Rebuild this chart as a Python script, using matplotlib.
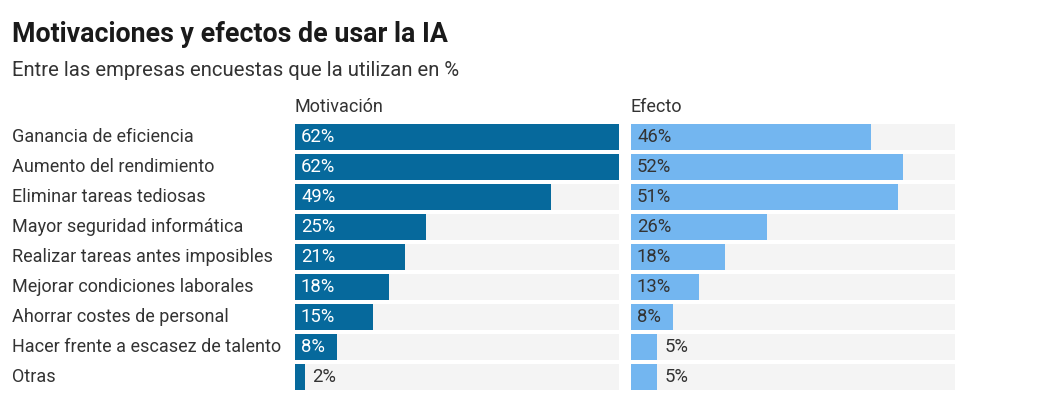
import matplotlib
matplotlib.use("Agg")
import matplotlib.pyplot as plt

categories = ["Ganancia de eficiencia", "Aumento del rendimiento", "Eliminar tareas tediosas",
              "Mayor seguridad informática", "Realizar tareas antes imposibles",
              "Mejorar condiciones laborales", "Ahorrar costes de personal",
              "Hacer frente a escasez de talento", "Otras"]
motivacion = [62, 62, 49, 25, 21, 18, 15, 8, 2]
efecto = [46, 52, 51, 26, 18, 13, 8, 5, 5]
panel_titles = ["Motivación", "Efecto"]

W, H = 1041, 407
plt.rcParams['font.family'] = ['Roboto', 'DejaVu Sans']
fig = plt.figure(figsize=(W / 100, H / 100), dpi=100)

def px(x):
    return x / W

def py(y):
    return 1 - y / H

TXT = "#333333"
BG = "#f4f4f4"
XMAX = 62

panels = [(295, motivacion, "#06699c", "white"), (631, efecto, "#73b6f0", TXT)]
top, bottom = 122, 392
n = len(categories)
for (x0, vals, col, incol), title in zip(panels, panel_titles):
    ax = fig.add_axes([px(x0), py(bottom), px(324), (bottom - top) / H])
    ax.set_xlim(0, XMAX)
    ax.set_ylim(n - 0.5, -0.5)
    ax.axis("off")
    ys = list(range(n))
    ax.barh(ys, [XMAX] * n, height=0.84, color=BG, linewidth=0)
    ax.barh(ys, vals, height=0.84, color=col, linewidth=0)
    for y, v in zip(ys, vals):
        if v >= 7:
            ax.annotate(f"{v}%", (0, y), xytext=(6, 0), textcoords="offset pixels",
                        ha="left", va="center", color=incol, fontsize=13.3)
        else:
            ax.annotate(f"{v}%", (v, y), xytext=(7, 0), textcoords="offset pixels",
                        ha="left", va="center", color=TXT, fontsize=13.3)
    fig.text(px(x0), py(107), title, ha="left", va="center", color=TXT, fontsize=13)

for i, c in enumerate(categories):
    fig.text(px(12), py(137 + 30 * i), c, ha="left", va="center", color=TXT, fontsize=13)

fig.text(px(12), py(34), "Motivaciones y efectos de usar la IA", ha="left", va="center",
         color="#1a1a1a", fontsize=19.3, fontweight="bold")
fig.text(px(12), py(71), "Entre las empresas encuestas que la utilizan en %", ha="left",
         va="center", color=TXT, fontsize=14.6)

fig.savefig("out.png", dpi=100, facecolor="white")
